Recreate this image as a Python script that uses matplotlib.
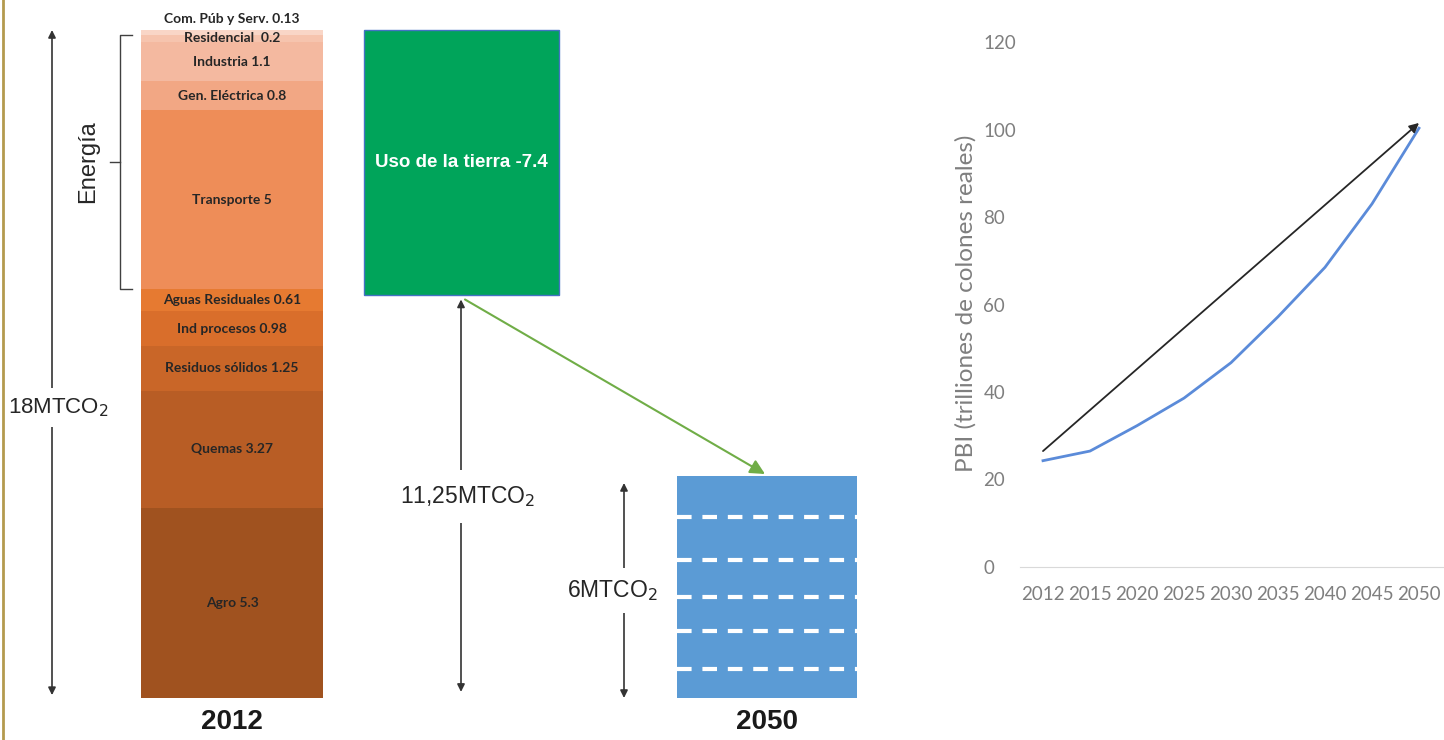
import matplotlib.pyplot as plt
from matplotlib.lines import Line2D

plt.rcParams['font.family'] = ['Liberation Sans', 'DejaVu Sans']

# --- datos ---
sectores = ['Agro', 'Quemas', 'Residuos sólidos', 'Ind procesos', 'Aguas Residuales',
            'Transporte', 'Gen. Eléctrica', 'Industria', 'Residencial ', 'Com. Púb y Serv.']
emisiones_2012 = [5.3, 3.27, 1.25, 0.98, 0.61, 5, 0.8, 1.1, 0.2, 0.13]
colores_2012 = ['#A0521F', '#B85D25', '#C96628', '#D96E2B', '#E67A31',
                '#EE8D58', '#F2A784', '#F4B9A0', '#F6C4AE', '#F9D6C7']
energia = ['Transporte', 'Gen. Eléctrica', 'Industria', 'Residencial ']

uso_tierra = -7.4
neto_2012 = 11.25
meta_2050 = 6
caja_2050 = 6.2
lineas_2050 = [0.82, 1.87, 2.82, 3.85, 5.05]

anios = ['2012', '2015', '2020', '2025', '2030', '2035', '2040', '2045', '2050']
pbi = [24.3, 26.5, 32.3, 38.6, 46.7, 57.2, 68.5, 83.0, 100.3]
tendencia = [26.5, 101.5]

W, H = 1444, 740
fig = plt.figure(figsize=(W / 100, H / 100), dpi=100)
fig.patch.set_facecolor('white')

# --- panel izquierdo: x en pixeles, y en MTCO2 ---
ax = fig.add_axes([0, 0, 940 / W, 1])
total = sum(emisiones_2012)
unit = (698 - 30) / total
ax.set_xlim(0, 940)
ax.set_ylim(-(H - 698) / unit, 698 / unit)
ax.axis('off')

x_2012, x_tierra, x_2050 = 232, 461, 767

bottoms = [sum(emisiones_2012[:i]) for i in range(len(emisiones_2012))]
ax.bar(x_2012, emisiones_2012, bottom=bottoms, width=182, color=colores_2012,
       edgecolor='none')
lbl = dict(ha='center', va='center', fontsize=10, fontweight='bold',
           color='#262626', family=['Lato', 'DejaVu Sans'])
for name, v, b in zip(sectores, emisiones_2012, bottoms):
    if name.startswith('Com.'):
        ax.text(x_2012, total + 0.3, f'{name} {v:g}', **lbl)
    else:
        ax.text(x_2012, b + v / 2, f'{name} {v:g}', **lbl)

# llave de energia
e_idx = [sectores.index(s) for s in energia]
e_bot = bottoms[min(e_idx)]
e_top = bottoms[max(e_idx)] + emisiones_2012[max(e_idx)]
e_mid = (e_bot + e_top) / 2
ax.plot([132, 120, 120, 132], [e_top, e_top, e_bot, e_bot], color='#404040', lw=1)
ax.plot([110, 120], [e_mid, e_mid], color='#404040', lw=1)
ax.text(88, e_mid, 'Energía', rotation=90, ha='center', va='center', fontsize=17,
        color='#262626')

# flecha 18MTCO2
dbl = dict(arrowstyle='<|-|>', color='#333333', lw=1.2, mutation_scale=11,
           shrinkA=0, shrinkB=0)
ax.annotate('', xy=(52, 0.08), xytext=(52, total), arrowprops=dbl)
ax.text(58, total * 0.435, '18MTCO$_2$', ha='center', va='center', fontsize=16,
        color='#262626', bbox=dict(facecolor='white', edgecolor='none', pad=6))

# uso de la tierra
ax.bar(x_tierra, -uso_tierra, bottom=total + uso_tierra, width=195, color='#00A45A',
       edgecolor='#4472C4', lw=1)
ax.text(x_tierra, total + uso_tierra / 2, f'Uso de la tierra {uso_tierra:g}',
        ha='center', va='center', fontsize=13.5, fontweight='bold', color='white')

# flecha neto 2012
ax.annotate('', xy=(x_tierra, 0.17), xytext=(x_tierra, total + uso_tierra - 0.12),
            arrowprops=dbl)
ax.text(468, neto_2012 / 2, '11,25MTCO$_2$', ha='center', va='center', fontsize=16.5,
        color='#262626', bbox=dict(facecolor='white', edgecolor='none', pad=10))

# flecha verde
ax.annotate('', xy=(765, caja_2050 + 0.05), xytext=(465, total + uso_tierra - 0.12),
            arrowprops=dict(arrowstyle='-|>', color='#70AD47', lw=1.5,
                            mutation_scale=22, shrinkA=0, shrinkB=0))

# caja 2050
ax.bar(x_2050, caja_2050, width=180, color='#5B9BD5', edgecolor='none')
for yv in lineas_2050:
    ax.plot([x_2050 - 90, x_2050 + 90], [yv, yv], color='white', lw=3,
            dashes=(3.5, 2.6), dash_capstyle='butt')

ax.annotate('', xy=(624, 0), xytext=(624, meta_2050), arrowprops=dbl)
ax.text(612, meta_2050 / 2, f'{meta_2050}MTCO$_2$', ha='center', va='center',
        fontsize=16.5, color='#262626',
        bbox=dict(facecolor='white', edgecolor='none', pad=7))

ax.text(x_2012, -0.67, '2012', ha='center', va='center', fontsize=20,
        fontweight='bold', color='#1a1a1a')
ax.text(x_2050, -0.67, '2050', ha='center', va='center', fontsize=20,
        fontweight='bold', color='#1a1a1a')

# --- panel derecho: PBI ---
ax2 = fig.add_axes([1019.5 / W, (H - 567) / H, 423 / W, 525 / H])
xs = list(range(len(anios)))
ax2.plot(xs, pbi, color='#5B8BD9', lw=2)
ax2.annotate('', xy=(xs[-1], tendencia[1]), xytext=(xs[0], tendencia[0]),
             arrowprops=dict(arrowstyle='-|>', color='#262626', lw=1.3,
                             mutation_scale=14, shrinkA=0, shrinkB=0))
ax2.set_xlim(-0.5, len(anios) - 0.5)
ax2.set_ylim(0, 120)
ax2.set_yticks(range(0, 121, 20))
ax2.set_xticks(xs, anios)
for s in ['top', 'right', 'left']:
    ax2.spines[s].set_visible(False)
ax2.spines['bottom'].set_color('#D9D9D9')
ax2.tick_params(length=0, colors='#7F7F7F', labelsize=13.5)
ax2.tick_params(axis='y', pad=26)
ax2.tick_params(axis='x', pad=14)
for t in ax2.get_yticklabels():
    t.set_horizontalalignment('left')
for t in ax2.get_xticklabels() + ax2.get_yticklabels():
    t.set_fontfamily('Lato')
ax2.set_facecolor('none')
fig.text(966 / W, 1 - 303 / H, 'PBI (trilliones de colones reales)', rotation=90,
         ha='center', va='center', fontsize=17.5, color='#7F7F7F', family='Lato')

fig.add_artist(Line2D([3.5 / W, 3.5 / W], [0, 1], color='#B49A4E', lw=2))

fig.savefig('out.png', dpi=100)
